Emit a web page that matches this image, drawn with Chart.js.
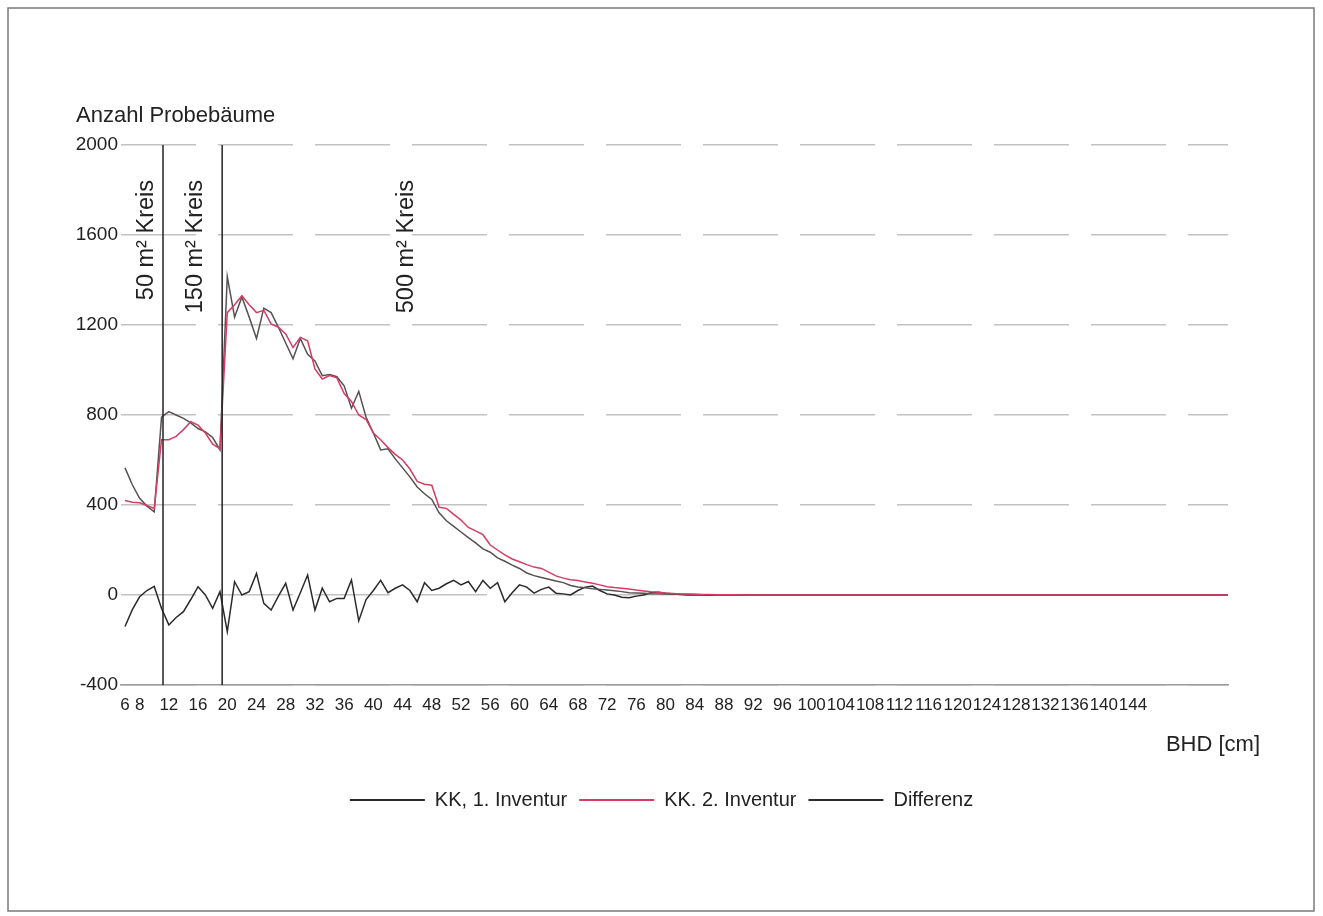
<!DOCTYPE html>
<html>
<head>
<meta charset="utf-8">
<script src="https://cdn.jsdelivr.net/npm/chart.js@4.4.0/dist/chart.umd.min.js"></script>
<style>
  html, body { margin: 0; padding: 0; background: #fff; }
  canvas { display: block; }
</style>
</head>
<body>
<canvas id="bhdChart" width="1323" height="916"></canvas>
<script>
// BHD-Klassen (cm)
const bhd = [
  6, 7, 8, 9, 10, 11, 12, 13, 14, 15,
  16, 17, 18, 19, 20, 21, 22, 23, 24, 25,
  26, 27, 28, 29, 30, 31, 32, 33, 34, 35,
  36, 37, 38, 39, 40, 41, 42, 43, 44, 45,
  46, 47, 48, 49, 50, 51, 52, 53, 54, 55,
  56, 57, 58, 59, 60, 61, 62, 63, 64, 65,
  66, 67, 68, 69, 70, 71, 72, 73, 74, 75,
  76, 77, 78, 79, 80, 81, 82, 83, 84, 85,
  86, 87, 88, 89, 90, 91, 92, 93, 94, 95,
  96, 97, 98, 99, 100, 101, 102, 103, 104, 105,
  106, 107, 108, 109, 110, 111, 112, 113, 114, 115,
  116, 117, 118, 119, 120, 121, 122, 123, 124, 125,
  126, 127, 128, 129, 130, 131, 132, 133, 134, 135,
  136, 137, 138, 139, 140, 141, 142, 143, 144, 145,
  146, 147, 148, 149, 150, 151, 152, 153, 154, 155,
  156, 157
];

const inventur1 = [
  565, 490, 430, 395, 370, 790, 815, 800, 785, 765,
  740, 725, 700, 645, 1415, 1235, 1325, 1235, 1140, 1275,
  1255, 1190, 1120, 1050, 1140, 1070, 1040, 975, 980, 970,
  930, 830, 905, 790, 720, 645, 650, 605, 565, 525,
  480, 450, 425, 365, 330, 305, 280, 255, 232, 205,
  190, 165, 150, 133, 118, 98, 86, 78, 70, 62,
  55, 42, 36, 32, 28, 25, 22, 19, 15, 10,
  9, 8, 6, 5, 4, 3, 3, 2, 2, 1,
  1, 1, 1, 1, 0, 1, 0, 0, 0, 0,
  0, 0, 0, 0, 0, 0, 0, 0, 0, 0,
  0, 0, 0, 0, 0, 0, 0, 0, 0, 0,
  0, 0, 0, 0, 0, 0, 0, 0, 0, 0,
  0, 0, 0, 0, 0, 0, 0, 0, 0, 0,
  0, 0, 0, 0, 0, 0, 0, 0, 0, 0,
  0, 0, 0, 0, 0, 0, 0, 0, 0, 0,
  0, 0
];

const inventur2 = [
  420, 412, 410, 398, 385, 690, 690, 705, 735, 770,
  755, 720, 670, 650, 1255, 1290, 1330, 1290, 1255, 1265,
  1205, 1190, 1160, 1100, 1145, 1130, 1005, 960, 975, 965,
  895, 860, 800, 780, 720, 690, 655, 625, 600, 560,
  505, 492, 488, 390, 385, 358, 333, 300, 285, 268,
  222, 200, 178, 160, 148, 135, 124, 118, 102, 85,
  75, 68, 64, 58, 52, 45, 37, 33, 30, 27,
  22, 18, 14, 12, 9, 7, 5, 4, 3, 2,
  2, 1, 1, 1, 1, 0, 1, 0, 0, 0,
  0, 0, 0, 0, 0, 0, 0, 0, 0, 0,
  0, 0, 0, 0, 0, 0, 0, 0, 0, 0,
  0, 0, 0, 0, 0, 0, 0, 0, 0, 0,
  0, 0, 0, 0, 0, 0, 0, 0, 0, 0,
  0, 0, 0, 0, 0, 0, 0, 0, 0, 0,
  0, 0, 0, 0, 0, 0, 0, 0, 0, 0,
  0, 0
];

const differenz = [
  -140, -65, -8, 20, 38, -60, -133, -100, -74, -20,
  37, 0, -59, 15, -163, 59, 0, 15, 96, -37,
  -67, -5, 52, -67, 10, 89, -67, 30, -30, -15,
  -15, 67, -115, -20, 20, 65, 10, 30, 45, 20,
  -30, 55, 20, 30, 50, 65, 45, 60, 15, 65,
  30, 55, -30, 10, 45, 35, 8, 25, 35, 8,
  5, 0, 20, 35, 40, 20, 5, 0, -10, -12,
  -5, 0, 10, 12, 8, 5, 2, 0, 1, 0,
  -1, 0, 1, 0, 0, -1, 0, 0, 0, 0,
  0, 0, 0, 0, 0, 0, 0, 0, 0, 0,
  0, 0, 0, 0, 0, 0, 0, 0, 0, 0,
  0, 0, 0, 0, 0, 0, 0, 0, 0, 0,
  0, 0, 0, 0, 0, 0, 0, 0, 0, 0,
  0, 0, 0, 0, 0, 0, 0, 0, 0, 0,
  0, 0, 0, 0, 0, 0, 0, 0, 0, 0,
  0, 0
];

const xTickLabels = [6, 8, 12, 16, 20, 24, 28, 32, 36, 40, 44, 48, 52, 56, 60, 64, 68, 72, 76, 80,
  84, 88, 92, 96, 100, 104, 108, 112, 116, 120, 124, 128, 132, 136, 140, 144];
const yTicks = [-400, 0, 400, 800, 1200, 1600, 2000];

const serien = ["KK, 1. Inventur", "KK. 2. Inventur", "Differenz"];

// Kreisgrenzen (BHD) und Beschriftungen
const kreisLinien = [11.2, 19.3];
const kreisTexte = ["50 m\u00B2 Kreis", "150 m\u00B2 Kreis", "500 m\u00B2 Kreis"];
const kreisTextBhd = [8.9, 15.7, 44.5];

const FONT = "'Liberation Sans', Arial, Helvetica, sans-serif";
const lineColors = ["#575151", "#d63c64", "#2b2b2b"];
const legendColors = ["#2b2b2b", "#d63c64", "#2b2b2b"];

const pts = arr => bhd.map((x, i) => ({ x: x, y: arr[i] }));

const overlay = {
  id: "overlay",
  afterDatasetsDraw(chart) {
    const { ctx, chartArea: a, scales: { x, y } } = chart;
    ctx.save();
    ctx.strokeStyle = "#222";
    ctx.lineWidth = 1.5;
    kreisLinien.forEach(v => {
      const px = x.getPixelForValue(v);
      ctx.beginPath();
      ctx.moveTo(px, y.getPixelForValue(2000));
      ctx.lineTo(px, y.getPixelForValue(-400));
      ctx.stroke();
    });
    ctx.fillStyle = "#222";
    ctx.font = "23.5px " + FONT;
    ctx.textAlign = "right";
    ctx.textBaseline = "middle";
    kreisTexte.forEach((t, i) => {
      ctx.save();
      ctx.translate(x.getPixelForValue(kreisTextBhd[i]), a.top + 35);
      ctx.rotate(-Math.PI / 2);
      ctx.fillText(t, 0, 0);
      ctx.restore();
    });
    ctx.restore();
  },
  afterDraw(chart) {
    const { ctx, chartArea: a } = chart;
    ctx.save();
    ctx.fillStyle = "#222";
    ctx.font = "22px " + FONT;
    ctx.textBaseline = "middle";
    ctx.textAlign = "left";
    ctx.fillText("Anzahl Probeb\u00E4ume", a.left - 45, a.top - 29);
    ctx.textAlign = "right";
    ctx.fillText("BHD [cm]", a.right + 32, a.bottom + 60);
    ctx.strokeStyle = "#7a7a7a";
    ctx.lineWidth = 1.5;
    ctx.strokeRect(8, 8, 1306, 903);
    ctx.restore();
  }
};

new Chart(document.getElementById("bhdChart"), {
  type: "line",
  data: {
    datasets: serien.map((name, i) => ({
      label: name,
      data: pts([inventur1, inventur2, differenz][i]),
      borderColor: lineColors[i],
      backgroundColor: legendColors[i],
      borderWidth: 1.5,
      pointRadius: 0,
      tension: 0,
      order: [1, 0, 2][i]
    }))
  },
  options: {
    responsive: false,
    animation: false,
    layout: { padding: { top: 145, left: 0, right: 0, bottom: 96 } },
    plugins: {
      tooltip: { enabled: false },
      legend: {
        position: "bottom",
        labels: {
          boxWidth: 75,
          boxHeight: 2,
          padding: 12,
          color: "#222",
          font: { family: FONT, size: 20 },
          generateLabels: chart => chart.data.datasets.map((ds, i) => ({
            text: ds.label,
            fillStyle: legendColors[i],
            strokeStyle: legendColors[i],
            lineWidth: 0,
            hidden: false,
            datasetIndex: i,
            fontColor: "#222"
          }))
        }
      }
    },
    scales: {
      x: {
        type: "linear",
        min: 5.45,
        max: 157,
        afterBuildTicks: s => { s.ticks = xTickLabels.map(v => ({ value: v })); },
        afterFit: s => { s.height = 93; },
        grid: { display: false, drawTicks: false },
        border: { display: true, color: "#9a9a9a", width: 1.5 },
        ticks: {
          autoSkip: false,
          maxRotation: 0,
          padding: 10,
          color: "#222",
          font: { family: FONT, size: 17 },
          callback: v => String(v)
        }
      },
      y: {
        min: -400,
        max: 2000,
        afterBuildTicks: s => { s.ticks = yTicks.map(v => ({ value: v })); },
        afterFit: s => { s.width = 121; },
        grid: { color: "#c2c2c2", lineWidth: 1.5, drawTicks: false },
        border: { display: false, dash: [75, 22] },
        ticks: {
          padding: 3,
          color: "#222",
          font: { family: FONT, size: 19 },
          callback: v => String(v)
        }
      },
      rand: {
        position: "right",
        afterFit: s => { s.width = 95; },
        grid: { display: false, drawTicks: false },
        border: { display: false },
        ticks: { display: false }
      }
    }
  },
  plugins: [overlay]
});
</script>
</body>
</html>
